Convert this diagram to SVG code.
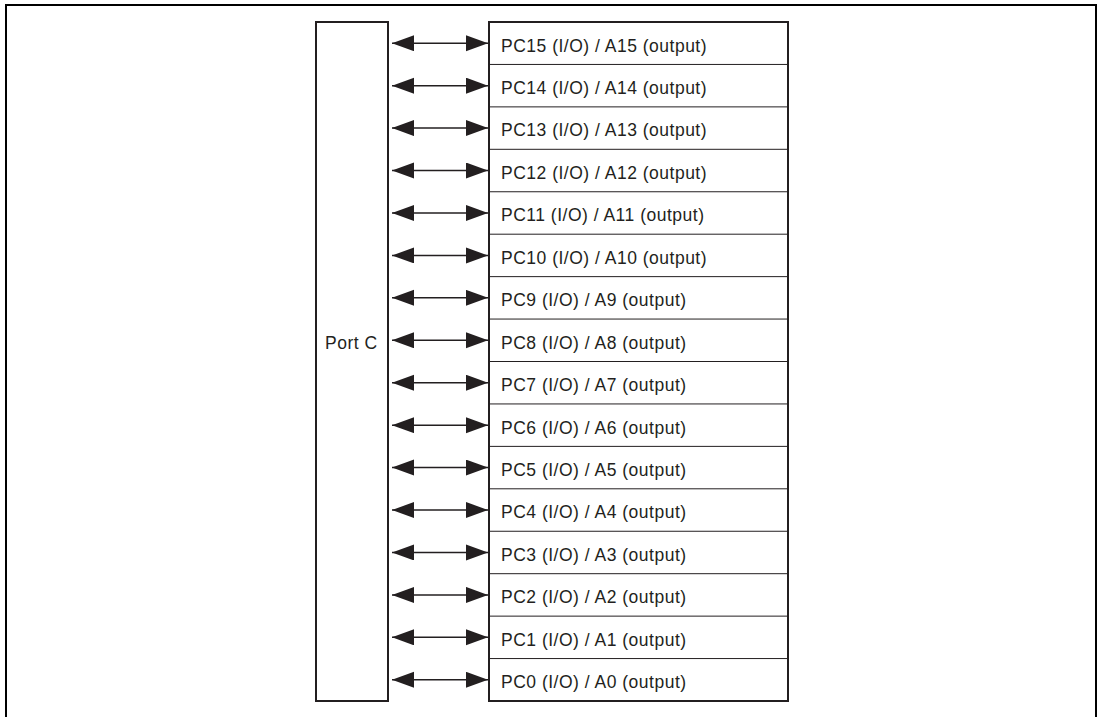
<svg xmlns="http://www.w3.org/2000/svg" width="1103" height="717" viewBox="0 0 1103 717">
<style>
.frame{fill:none;stroke:#000;stroke-width:2}
.box{fill:#fff;stroke:#231f20;stroke-width:2}
.div{stroke:#231f20;stroke-width:1}
.lbl{font-family:"Liberation Sans",Arial,sans-serif;font-size:17.5px;letter-spacing:0.5px;fill:#231f20}
.con{stroke:#231f20;stroke-width:1.5;marker-start:url(#ah);marker-end:url(#ah)}
</style>
<defs>
<marker id="ah" markerUnits="userSpaceOnUse" markerWidth="23" markerHeight="17" refX="22" refY="8" orient="auto-start-reverse" viewBox="0 0 23 17">
<path d="M0,0 L22,8 L0,16 z" fill="#231f20"/>
</marker>
</defs>
<rect width="1103" height="717" fill="#fff"/>
<path class="frame" d="M6,720 V5 H1096 V720"/>
<g id="portc">
<rect class="box" x="316" y="22" width="72" height="679"/>
<text class="lbl" x="325" y="349">Port C</text>
</g>
<g id="pins">
<rect class="box" x="489" y="22" width="299" height="679"/>
<g class="div">
<line x1="489" x2="788" y1="64.44" y2="64.44"/>
<line x1="489" x2="788" y1="106.88" y2="106.88"/>
<line x1="489" x2="788" y1="149.31" y2="149.31"/>
<line x1="489" x2="788" y1="191.75" y2="191.75"/>
<line x1="489" x2="788" y1="234.19" y2="234.19"/>
<line x1="489" x2="788" y1="276.63" y2="276.63"/>
<line x1="489" x2="788" y1="319.06" y2="319.06"/>
<line x1="489" x2="788" y1="361.5" y2="361.5"/>
<line x1="489" x2="788" y1="403.94" y2="403.94"/>
<line x1="489" x2="788" y1="446.38" y2="446.38"/>
<line x1="489" x2="788" y1="488.81" y2="488.81"/>
<line x1="489" x2="788" y1="531.25" y2="531.25"/>
<line x1="489" x2="788" y1="573.69" y2="573.69"/>
<line x1="489" x2="788" y1="616.13" y2="616.13"/>
<line x1="489" x2="788" y1="658.56" y2="658.56"/>
</g>
</g>
<g id="pc15"><text class="lbl" x="501" y="51.5">PC15 (I/O) / A15 (output)</text></g>
<g id="pc14"><text class="lbl" x="501" y="94">PC14 (I/O) / A14 (output)</text></g>
<g id="pc13"><text class="lbl" x="501" y="136.4">PC13 (I/O) / A13 (output)</text></g>
<g id="pc12"><text class="lbl" x="501" y="178.8">PC12 (I/O) / A12 (output)</text></g>
<g id="pc11"><text class="lbl" x="501" y="221.3">PC11 (I/O) / A11 (output)</text></g>
<g id="pc10"><text class="lbl" x="501" y="263.7">PC10 (I/O) / A10 (output)</text></g>
<g id="pc9"><text class="lbl" x="501" y="306.1">PC9 (I/O) / A9 (output)</text></g>
<g id="pc8"><text class="lbl" x="501" y="348.6">PC8 (I/O) / A8 (output)</text></g>
<g id="pc7"><text class="lbl" x="501" y="391">PC7 (I/O) / A7 (output)</text></g>
<g id="pc6"><text class="lbl" x="501" y="433.5">PC6 (I/O) / A6 (output)</text></g>
<g id="pc5"><text class="lbl" x="501" y="475.9">PC5 (I/O) / A5 (output)</text></g>
<g id="pc4"><text class="lbl" x="501" y="518.3">PC4 (I/O) / A4 (output)</text></g>
<g id="pc3"><text class="lbl" x="501" y="560.8">PC3 (I/O) / A3 (output)</text></g>
<g id="pc2"><text class="lbl" x="501" y="603.2">PC2 (I/O) / A2 (output)</text></g>
<g id="pc1"><text class="lbl" x="501" y="645.6">PC1 (I/O) / A1 (output)</text></g>
<g id="pc0"><text class="lbl" x="501" y="688.1">PC0 (I/O) / A0 (output)</text></g>
<g id="connectors">
<line class="con" x1="392" x2="488" y1="43.22" y2="43.22"/>
<line class="con" x1="392" x2="488" y1="85.66" y2="85.66"/>
<line class="con" x1="392" x2="488" y1="128.09" y2="128.09"/>
<line class="con" x1="392" x2="488" y1="170.53" y2="170.53"/>
<line class="con" x1="392" x2="488" y1="212.97" y2="212.97"/>
<line class="con" x1="392" x2="488" y1="255.41" y2="255.41"/>
<line class="con" x1="392" x2="488" y1="297.84" y2="297.84"/>
<line class="con" x1="392" x2="488" y1="340.28" y2="340.28"/>
<line class="con" x1="392" x2="488" y1="382.72" y2="382.72"/>
<line class="con" x1="392" x2="488" y1="425.16" y2="425.16"/>
<line class="con" x1="392" x2="488" y1="467.59" y2="467.59"/>
<line class="con" x1="392" x2="488" y1="510.03" y2="510.03"/>
<line class="con" x1="392" x2="488" y1="552.47" y2="552.47"/>
<line class="con" x1="392" x2="488" y1="594.91" y2="594.91"/>
<line class="con" x1="392" x2="488" y1="637.34" y2="637.34"/>
<line class="con" x1="392" x2="488" y1="679.78" y2="679.78"/>
</g>
</svg>
